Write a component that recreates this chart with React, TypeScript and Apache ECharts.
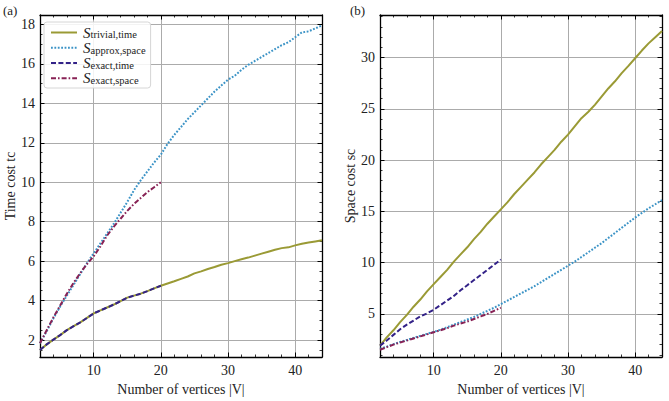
import React, { useEffect, useRef } from "react";
import * as echarts from "echarts";

// ---- data ----
const vertices = [2, 3, 4, 5, 6, 7, 8, 9, 10, 11, 12, 13, 14, 15, 16, 17, 18, 19, 20, 21, 22, 23, 24, 25, 26, 27, 28, 29, 30, 31, 32, 33, 34, 35, 36, 37, 38, 39, 40, 41, 42, 43, 44];
const verticesExact = [2, 3, 4, 5, 6, 7, 8, 9, 10, 11, 12, 13, 14, 15, 16, 17, 18, 19, 20];

const timeTrivial = [1.5, 1.78, 2.02, 2.25, 2.5, 2.7, 2.9, 3.12, 3.35, 3.5, 3.65, 3.8, 3.97, 4.15, 4.25, 4.35, 4.48, 4.62, 4.75, 4.87, 4.98, 5.1, 5.22, 5.38, 5.48, 5.6, 5.7, 5.82, 5.9, 6.0, 6.1, 6.18, 6.28, 6.38, 6.48, 6.58, 6.66, 6.7, 6.8, 6.88, 6.94, 7.0, 7.06];
const timeApprox = [1.84, 2.45, 3.1, 3.7, 4.25, 4.8, 5.35, 5.9, 6.4, 6.9, 7.4, 7.9, 8.45, 9.0, 9.6, 10.1, 10.55, 11.0, 11.4, 11.95, 12.4, 12.8, 13.2, 13.55, 13.9, 14.25, 14.6, 14.9, 15.2, 15.4, 15.7, 15.95, 16.15, 16.35, 16.55, 16.75, 16.95, 17.1, 17.35, 17.6, 17.65, 17.8, 17.95];
const timeExactTime = [1.5, 1.78, 2.02, 2.25, 2.5, 2.7, 2.9, 3.12, 3.35, 3.5, 3.65, 3.8, 3.97, 4.15, 4.25, 4.35, 4.48, 4.62, 4.75];
const timeExactSpace = [1.84, 2.5, 3.15, 3.75, 4.35, 4.9, 5.4, 5.85, 6.25, 6.75, 7.3, 7.75, 8.15, 8.55, 8.9, 9.2, 9.5, 9.75, 10.0];

const spaceTrivial = [1.9, 2.7, 3.4, 4.2, 4.9, 5.7, 6.4, 7.2, 7.9, 8.6, 9.3, 10.1, 10.8, 11.5, 12.3, 13.0, 13.8, 14.5, 15.2, 15.9, 16.7, 17.4, 18.1, 18.8, 19.6, 20.3, 21.0, 21.8, 22.5, 23.3, 24.1, 24.7, 25.4, 26.2, 27.0, 27.7, 28.5, 29.2, 29.95, 30.7, 31.4, 32.0, 32.6];
const spaceApprox = [1.6, 1.8, 2.05, 2.25, 2.45, 2.65, 2.85, 3.05, 3.25, 3.45, 3.7, 3.95, 4.2, 4.45, 4.7, 5.0, 5.3, 5.6, 5.95, 6.3, 6.65, 7.0, 7.35, 7.7, 8.1, 8.5, 8.9, 9.3, 9.7, 10.1, 10.55, 11.0, 11.45, 11.9, 12.4, 12.9, 13.4, 13.9, 14.4, 14.85, 15.3, 15.7, 16.1];
const spaceExactTime = [1.9, 2.4, 2.95, 3.5, 3.95, 4.35, 4.75, 5.05, 5.4, 5.85, 6.3, 6.75, 7.3, 7.8, 8.3, 8.8, 9.3, 9.8, 10.3];
const spaceExactSpace = [1.5, 1.75, 2.0, 2.2, 2.4, 2.6, 2.8, 3.0, 3.2, 3.4, 3.6, 3.85, 4.05, 4.25, 4.5, 4.75, 5.0, 5.3, 5.6];

const seriesNames = ["S_trivial,time", "S_approx,space", "S_exact,time", "S_exact,space"];
const seriesSubs = ["trivial,time", "approx,space", "exact,time", "exact,space"];
const panelLabels = ["(a)", "(b)"];
const xTitle = "Number of vertices |V|";
const yTitles = ["Time cost tc", "Space cost sc"];

const serif = "'Liberation Serif', 'DejaVu Serif', serif";
const colors = ["#9a9a35", "#3b93c6", "#332288", "#882255"];
const dashes: any[] = ["solid", [1.8, 1.6], [5, 2.4], [5, 2, 1.6, 2]];

function pairs(xs: number[], ys: number[]) {
  return xs.map((x, i) => [x, ys[i]]);
}

export default function App() {
  const ref = useRef<HTMLDivElement>(null);
  useEffect(() => {
    const chart = echarts.init(ref.current!, null, { renderer: "svg" });

    const frame = { show: true, onZero: false, lineStyle: { color: "#000", width: 1.3 } };
    const tick = { show: true, inside: true, length: 4.5, lineStyle: { color: "#000", width: 1 } };
    const minor = (n: number) => ({ show: true, splitNumber: n, length: 2.5, lineStyle: { color: "#000", width: 0.8 } });
    const gridLine = { show: true, lineStyle: { color: "#ababab", width: 1 } };
    const label = { color: "#222", fontFamily: serif, fontSize: 14, margin: 6, showMinLabel: false, showMaxLabel: false };
    const nameStyle = { color: "#222", fontFamily: serif, fontSize: 14 };

    const xAxis = (gi: number, top: boolean) => ({
      type: "value",
      gridIndex: gi,
      position: top ? "top" : "bottom",
      min: 2,
      max: 44,
      minInterval: 10,
      maxInterval: 10,
      axisLine: frame,
      axisTick: tick,
      minorTick: minor(5),
      splitLine: top ? { show: false } : gridLine,
      axisLabel: top ? { show: false } : label,
      name: top ? "" : xTitle,
      nameLocation: "middle",
      nameGap: 25,
      nameTextStyle: nameStyle,
    });
    const yAxis = (gi: number, right: boolean, min: number, max: number, step: number, minorN: number) => ({
      type: "value",
      gridIndex: gi,
      position: right ? "right" : "left",
      min,
      max,
      minInterval: step,
      maxInterval: step,
      axisLine: frame,
      axisTick: tick,
      minorTick: minor(minorN),
      splitLine: right ? { show: false } : gridLine,
      axisLabel: right ? { show: false } : { ...label, margin: 5 },
      name: right ? "" : yTitles[gi],
      nameLocation: "middle",
      nameGap: 21,
      nameTextStyle: nameStyle,
    });

    const mk = (i: number, xi: number, xs: number[], ys: number[]) => ({
      name: seriesNames[i],
      type: "line",
      xAxisIndex: xi,
      yAxisIndex: xi,
      data: pairs(xs, ys),
      symbol: "none",
      lineStyle: { color: colors[i], width: 2, type: dashes[i], cap: "butt" },
      itemStyle: { color: colors[i] },
      z: 2 + i,
    });

    const rich = {
      s: { fontFamily: serif, fontStyle: "italic", fontSize: 15, color: "#222", lineHeight: 15.5, verticalAlign: "middle" },
      sub: { fontFamily: serif, fontSize: 10.5, color: "#222", lineHeight: 15.5, verticalAlign: "bottom" },
    };

    chart.setOption({
      animation: false,
      backgroundColor: "#fff",
      grid: [
        { left: 40, top: 15, width: 282, height: 349 },
        { left: 380, top: 15, width: 282, height: 349 },
      ],
      xAxis: [xAxis(0, false), xAxis(0, true), xAxis(1, false), xAxis(1, true)],
      yAxis: [
        yAxis(0, false, 1.14, 18.48, 2, 4),
        yAxis(0, true, 1.14, 18.48, 2, 4),
        yAxis(1, false, 0.79, 34.17, 5, 5),
        yAxis(1, true, 0.79, 34.17, 5, 5),
      ],
      legend: {
        show: true,
        data: seriesNames,
        orient: "vertical",
        left: 44,
        top: 22,
        itemWidth: 26,
        itemHeight: 10,
        itemGap: 0,
        padding: [3, 5, 2, 6],
        backgroundColor: "rgba(255,255,255,0.85)",
        borderColor: "#d6d6d6",
        borderWidth: 1,
        borderRadius: 3,
        itemStyle: { opacity: 0 },
        formatter: (name: string) => `{s|S}{sub|${seriesSubs[seriesNames.indexOf(name)]}}`,
        textStyle: { rich, padding: [0, 0, 0, 1] },
      },
      graphic: [
        { type: "text", left: 3, top: 4, style: { text: panelLabels[0], font: `13px ${serif}`, fill: "#222" } },
        { type: "text", left: 350, top: 4, style: { text: panelLabels[1], font: `13px ${serif}`, fill: "#222" } },
      ],
      series: [
        mk(0, 0, vertices, timeTrivial),
        mk(1, 0, vertices, timeApprox),
        mk(2, 0, verticesExact, timeExactTime),
        mk(3, 0, verticesExact, timeExactSpace),
        mk(0, 2, vertices, spaceTrivial),
        mk(1, 2, vertices, spaceApprox),
        mk(2, 2, verticesExact, spaceExactTime),
        mk(3, 2, verticesExact, spaceExactSpace),
      ],
    });
    return () => chart.dispose();
  }, []);
  return <div ref={ref} style={{ position: "fixed", left: 0, top: 0, width: 669, height: 401 }} />;
}
